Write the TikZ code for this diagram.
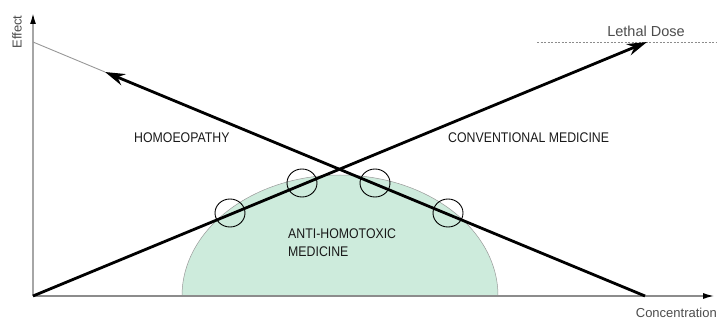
\documentclass[tikz,border=0pt]{standalone}
\usepackage{fontspec}
\setmainfont{Liberation Sans}
\newfontfamily\condfont[FakeStretch=0.88]{Liberation Sans}
\usetikzlibrary{arrows.meta}
\definecolor{hill}{HTML}{CDEBDC}
\tikzset{
  axisline/.style={draw=black!35, line width=1.6pt, -{Latex[length=11pt,width=6pt,black]}},
  bigarrow/.style={draw=black, line width=2.8pt, -{Stealth[length=20pt,width=12pt]}},
  ring/.style={draw=black, line width=0.9pt},
  caplabel/.style={font=\condfont\fontsize{14}{15}\selectfont, text=black!90, inner sep=0pt},
  smalllabel/.style={font=\fontsize{13}{14}\selectfont, text=black!70, inner sep=0pt},
}
\begin{document}
\begin{tikzpicture}[x=1pt,y=-1pt]
\useasboundingbox (0,0) rectangle (717,323);
% hill
\fill[hill] (182,296) arc[start angle=180,end angle=360,x radius=158,y radius=121] -- cycle;
\draw[black!40, line width=0.5pt] (182,296) arc[start angle=180,end angle=360,x radius=158,y radius=121];
% coordinates
\coordinate (O) at (33,296);
\coordinate (Ytop) at (33,13);
\coordinate (Xend) at (714,296);
\coordinate (Cend) at (647,42);
\coordinate (Hstart) at (645,296);
\coordinate (Htip) at (105,72);
\coordinate (Yhit) at (33,42);
\coordinate (L1) at (537,42);
\coordinate (L2) at (717,42);
% axes
\draw[axisline] (O) -- (Ytop);
\draw[axisline, draw=black!45, line width=1.3pt] (O) -- (Xend);
% lethal dose line
\draw[black!45, line width=0.7pt, dash pattern=on 2pt off 1.5pt] (L1) -- (L2);
\draw[black!40, line width=0.9pt] (Htip) -- (Yhit);
% main arrows
\draw[bigarrow] (O) -- (Cend);
\draw[bigarrow] (Hstart) -- (Htip);
% rings
\draw[ring] (230,213) ellipse[x radius=15, y radius=14];
\draw[ring] (302,183) ellipse[x radius=15, y radius=14];
\draw[ring] (375,183) ellipse[x radius=15, y radius=14];
\draw[ring] (448,213) ellipse[x radius=15, y radius=14];
% labels
\node[smalllabel, rotate=90] (effect) at (17,32) {Effect};
\node[smalllabel, anchor=east] (conc) at (717,313) {Concentration};
\node[smalllabel, font=\fontsize{14.5}{15}\selectfont] (lethal) at (646,31) {Lethal Dose};
\node[caplabel, anchor=west] (homoeo) at (134,138) {HOMOEOPATHY};
\node[caplabel, anchor=west] (conv) at (448,138) {CONVENTIONAL MEDICINE};
\node[caplabel, anchor=north west, align=left] (anti) at (288,229) {ANTI-HOMOTOXIC\\[3pt]MEDICINE};
\end{tikzpicture}
\end{document}
